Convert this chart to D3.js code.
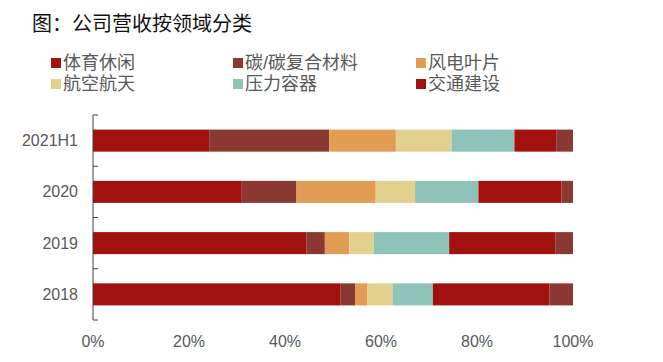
<!DOCTYPE html>
<html>
<head>
<meta charset="utf-8">
<script src="https://cdn.jsdelivr.net/npm/d3@7/dist/d3.min.js"></script>
<style>
  html, body { margin: 0; padding: 0; background: #fff; }
  svg { display: block; }
</style>
</head>
<body>
<svg id="chart" width="663" height="362"></svg>
<script>
const categories = ["2021H1", "2020", "2019", "2018"];
const seriesNames = ["体育休闲", "碳/碳复合材料", "风电叶片", "航空航天", "压力容器", "交通建设", "其他"];
const legendNames = ["体育休闲", "碳/碳复合材料", "风电叶片", "航空航天", "压力容器", "交通建设"];
const sportsLeisure = [24.2, 31.0, 44.5, 51.6];
const carbonComposite = [25.0, 11.4, 3.8, 3.0];
const windBlade = [13.9, 16.5, 5.1, 2.6];
const aerospace = [11.6, 8.2, 5.1, 5.2];
const pressureVessel = [13.1, 13.2, 15.7, 8.4];
const transport = [8.7, 17.3, 22.1, 24.3];
const other = [3.5, 2.4, 3.7, 4.9];
const xTicks = [0, 20, 40, 60, 80, 100];
const colors = ["#a1110e", "#8b3833", "#e39c53", "#e1d18d", "#8dc4b7", "#a1110e", "#8b3833"];

const seriesValues = [sportsLeisure, carbonComposite, windBlade, aerospace, pressureVessel, transport, other];
const table = categories.map((c, i) => {
  const row = { category: c };
  seriesNames.forEach((s, j) => { row[s] = seriesValues[j][i]; });
  return row;
});

const svg = d3.select("#chart");
const cjk = "'Liberation Sans', 'Noto Sans CJK SC', sans-serif";
const latin = "'Liberation Sans', Arial, sans-serif";

// Title
svg.append("text")
  .attr("x", 32).attr("y", 31)
  .attr("font-family", "'Noto Sans CJK SC', sans-serif").attr("font-size", 20).attr("fill", "#111")
  .text("图：公司营收按领域分类");

// Scales
const x = d3.scaleLinear().domain([0, 100]).range([93, 573]);
const y = d3.scaleBand().domain(categories).range([115, 320]).paddingInner(0.57).paddingOuter(0.285);

const stack = d3.stack().keys(seriesNames);
const stacked = stack(table);

svg.append("g").selectAll("g")
  .data(stacked)
  .join("g")
  .attr("fill", (d, i) => colors[i])
  .selectAll("rect")
  .data(d => d)
  .join("rect")
  .attr("x", d => x(d[0]))
  .attr("y", d => y(d.data.category))
  .attr("width", d => x(d[1]) - x(d[0]))
  .attr("height", y.bandwidth());

// Y axis line with boundary ticks
const ax = svg.append("g");
ax.append("line")
  .attr("x1", x(0)).attr("x2", x(0))
  .attr("y1", y.range()[0]).attr("y2", y.range()[1])
  .attr("stroke", "#404040").attr("stroke-width", 1);
const boundaries = categories.map(c => y(c) - y.step() * y.paddingInner() / 2).concat([y.range()[1]]);
ax.selectAll("line.tick")
  .data(boundaries)
  .join("line")
  .attr("class", "tick")
  .attr("x1", x(0)).attr("x2", x(0) + 5)
  .attr("y1", d => d).attr("y2", d => d)
  .attr("stroke", "#404040").attr("stroke-width", 1);

// Y labels
svg.append("g").selectAll("text")
  .data(categories)
  .join("text")
  .attr("x", 78)
  .attr("y", d => y(d) + y.bandwidth() / 2)
  .attr("dy", "0.35em")
  .attr("text-anchor", "end")
  .attr("font-family", latin).attr("font-size", 16).attr("fill", "#595959")
  .text(d => d);

// X labels
svg.append("g").selectAll("text")
  .data(xTicks)
  .join("text")
  .attr("x", d => x(d))
  .attr("y", 347)
  .attr("text-anchor", "middle")
  .attr("font-family", latin).attr("font-size", 16).attr("fill", "#595959")
  .text(d => d + "%");

// Legend
const legendX = [51, 233, 416];
const legendY = [63, 84];
const lg = svg.append("g").selectAll("g")
  .data(legendNames)
  .join("g")
  .attr("transform", (d, i) => `translate(${legendX[i % 3]},${legendY[Math.floor(i / 3)]})`);
lg.append("rect")
  .attr("x", 0).attr("y", -5).attr("width", 10).attr("height", 10)
  .attr("fill", (d, i) => colors[seriesNames.indexOf(d)]);
lg.append("text")
  .attr("x", 12).attr("y", 0).attr("dy", "0.36em")
  .attr("font-family", cjk).attr("font-size", 18).attr("fill", "#595959")
  .text(d => d);
</script>
</body>
</html>
